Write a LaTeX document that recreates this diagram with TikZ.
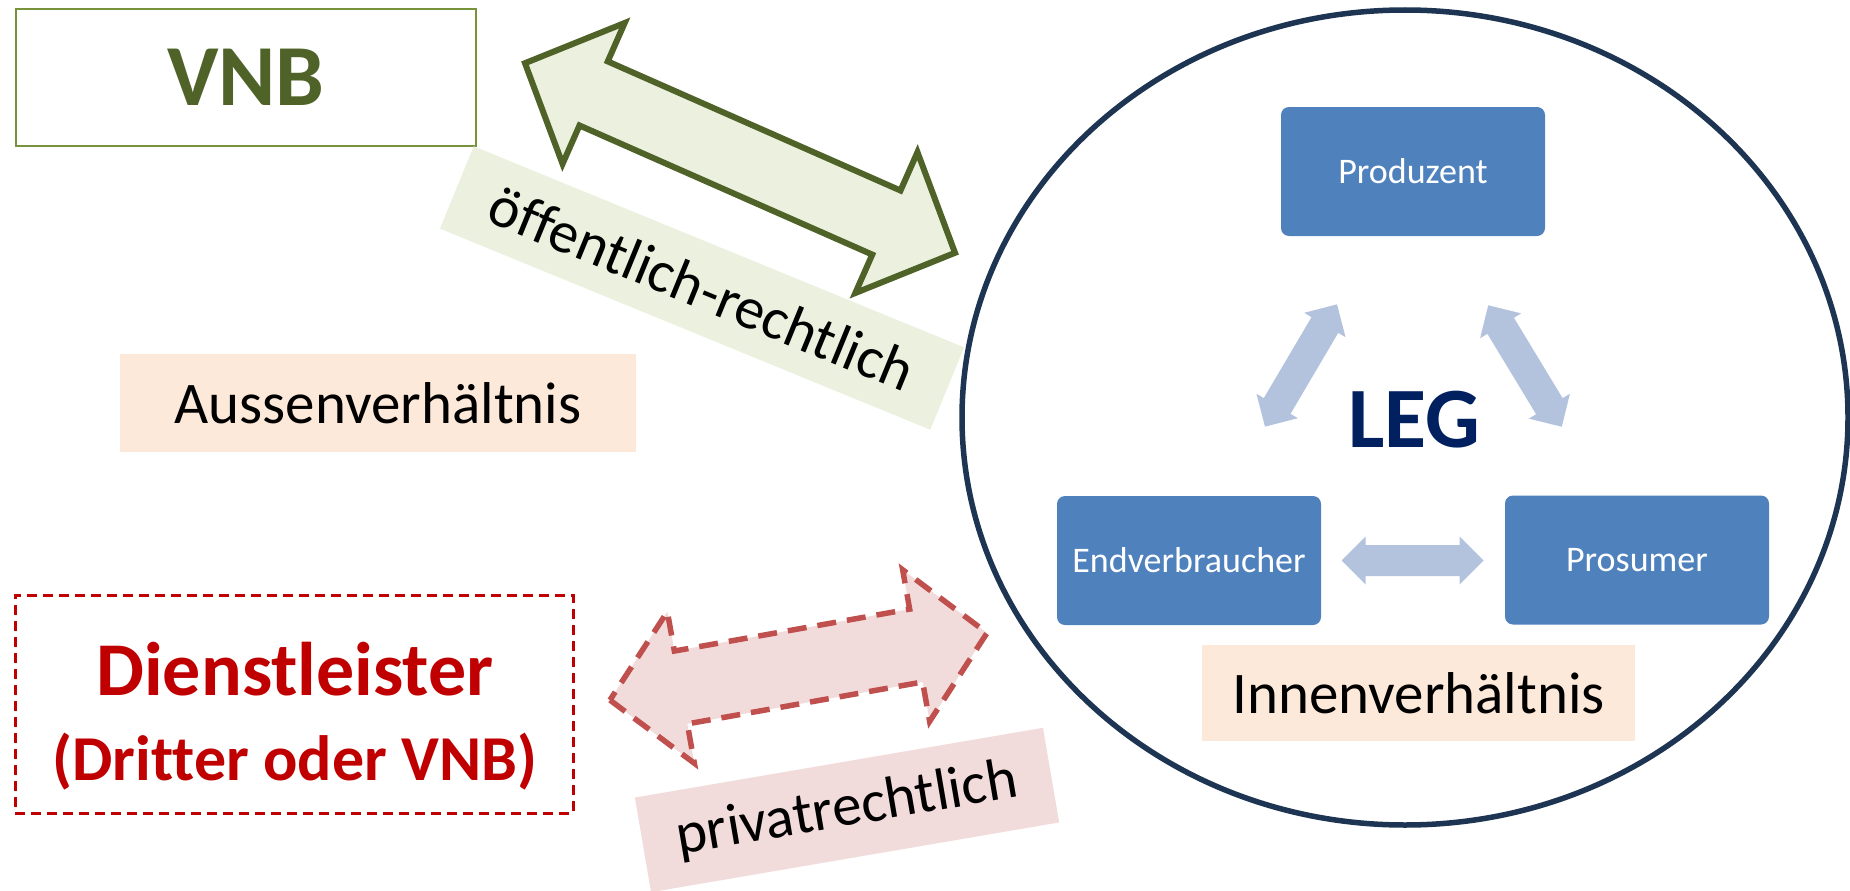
\documentclass[tikz,border=0pt]{standalone}
\usepackage{fontspec}
\setmainfont{Carlito}[Ligatures={NoCommon,NoRare,NoContextual}]
\usetikzlibrary{shapes.geometric}
\definecolor{vnbLine}{HTML}{77933C}
\definecolor{vnbText}{HTML}{4F6228}
\definecolor{greenFill}{HTML}{EBF1DE}
\definecolor{peachFill}{HTML}{FDE9D9}
\definecolor{pinkFill}{HTML}{F2DCDB}
\definecolor{redDash}{HTML}{C0504D}
\definecolor{dlRed}{HTML}{C00000}
\definecolor{circNavy}{HTML}{1D3552}
\definecolor{boxBlue}{HTML}{4F81BD}
\definecolor{arrBlue}{HTML}{B3C3DE}
\definecolor{legNavy}{HTML}{002060}
% double block arrow: style, centre, angle, length, shaft half-width, head half-width, head length
\newcommand\DblArrow[7]{%
  \path[#1, shift={(#2)}, rotate=#3]
    (-#4/2,0) -- (-#4/2+#7,#6) -- (-#4/2+#7,#5) -- (#4/2-#7,#5) -- (#4/2-#7,#6)
    -- (#4/2,0) -- (#4/2-#7,-#6) -- (#4/2-#7,-#5) -- (-#4/2+#7,-#5) -- (-#4/2+#7,-#6) -- cycle;}
\begin{document}
\begin{tikzpicture}[x=1pt,y=-1pt,
  bigtext/.style={font=\fontsize{59}{70}\selectfont},
  member/.style={fill=boxBlue, rounded corners=8pt, minimum width=264pt, minimum height=129pt,
    inner sep=0pt, text=white, font=\fontsize{36}{43}\selectfont},
  greenarrow/.style={draw=vnbText, fill=greenFill, line width=6pt, line join=miter},
  redarrow/.style={draw=redDash, fill=pinkFill, line width=5.5pt, dash pattern=on 19pt off 11pt},
  bluearrow/.style={fill=arrBlue}]
\useasboundingbox (0,0) rectangle (1850,891);
\fill[white] (0,0) rectangle (1850,891);

% left side
\node[draw=vnbLine, line width=2.5pt, minimum width=460pt, minimum height=137pt, inner sep=0pt,
  text=vnbText, font=\bfseries\fontsize{87}{100}\selectfont] (vnb) at (246,77.5) {VNB};
\node[fill=peachFill, minimum width=516pt, minimum height=98pt, inner sep=0pt, bigtext] (aussen) at (378,403) {Aussenverhältnis};
\node[draw=dlRed, line width=3pt, dash pattern=on 10pt off 6pt, minimum width=558pt, minimum height=218pt, inner sep=0pt] (dl) at (294,704) {};
\node[anchor=base, text=dlRed, font=\bfseries\fontsize{76}{90}\selectfont] (dlone) at (295,695) {Dienstleister};
\node[anchor=base, text=dlRed, font=\bfseries\fontsize{64}{76}\selectfont] (dltwo) at (295,780) {(Dritter oder VNB)};

% labels
\node[fill=greenFill, rotate=-22.3, minimum width=530pt, minimum height=89pt, inner sep=0pt, bigtext] (oeff) at (702,288) {öffentlich-rechtlich};
\node[fill=pinkFill, rotate=9.7, minimum width=414pt, minimum height=96pt, inner sep=0pt, bigtext] (priv) at (847,810) {privatrechtlich};

% block arrows
\DblArrow{greenarrow}{740,158}{-23.8}{470}{35}{77}{75}
\DblArrow{redarrow}{798.5,666.5}{10.1}{383}{37}{77}{72}

% LEG circle
\node[draw=circNavy, line width=5.5pt, ellipse, minimum width=886pt, minimum height=815pt, inner sep=0pt] (leg) at (1405,417.5) {};
\node[member] (prod) at (1413,171.5) {Produzent};
\node[member] (endv) at (1189,560.5) {Endverbraucher};
\node[member] (pros) at (1637,560) {Prosumer};
\node[text=legNavy, font=\bfseries\fontsize{86}{100}\selectfont] (legtxt) at (1414,420) {LEG};
\node[fill=peachFill, minimum width=433pt, minimum height=96pt, inner sep=0pt, bigtext] (innen) at (1418.5,693) {Innenverhältnis};

\DblArrow{bluearrow}{1301,365.5}{59.5}{142}{15.5}{24}{24}
\DblArrow{bluearrow}{1525,366}{-58.8}{142}{15.5}{24}{24}
\DblArrow{bluearrow}{1412.5,560.5}{0}{142}{15.5}{24}{24}
\end{tikzpicture}
\end{document}
